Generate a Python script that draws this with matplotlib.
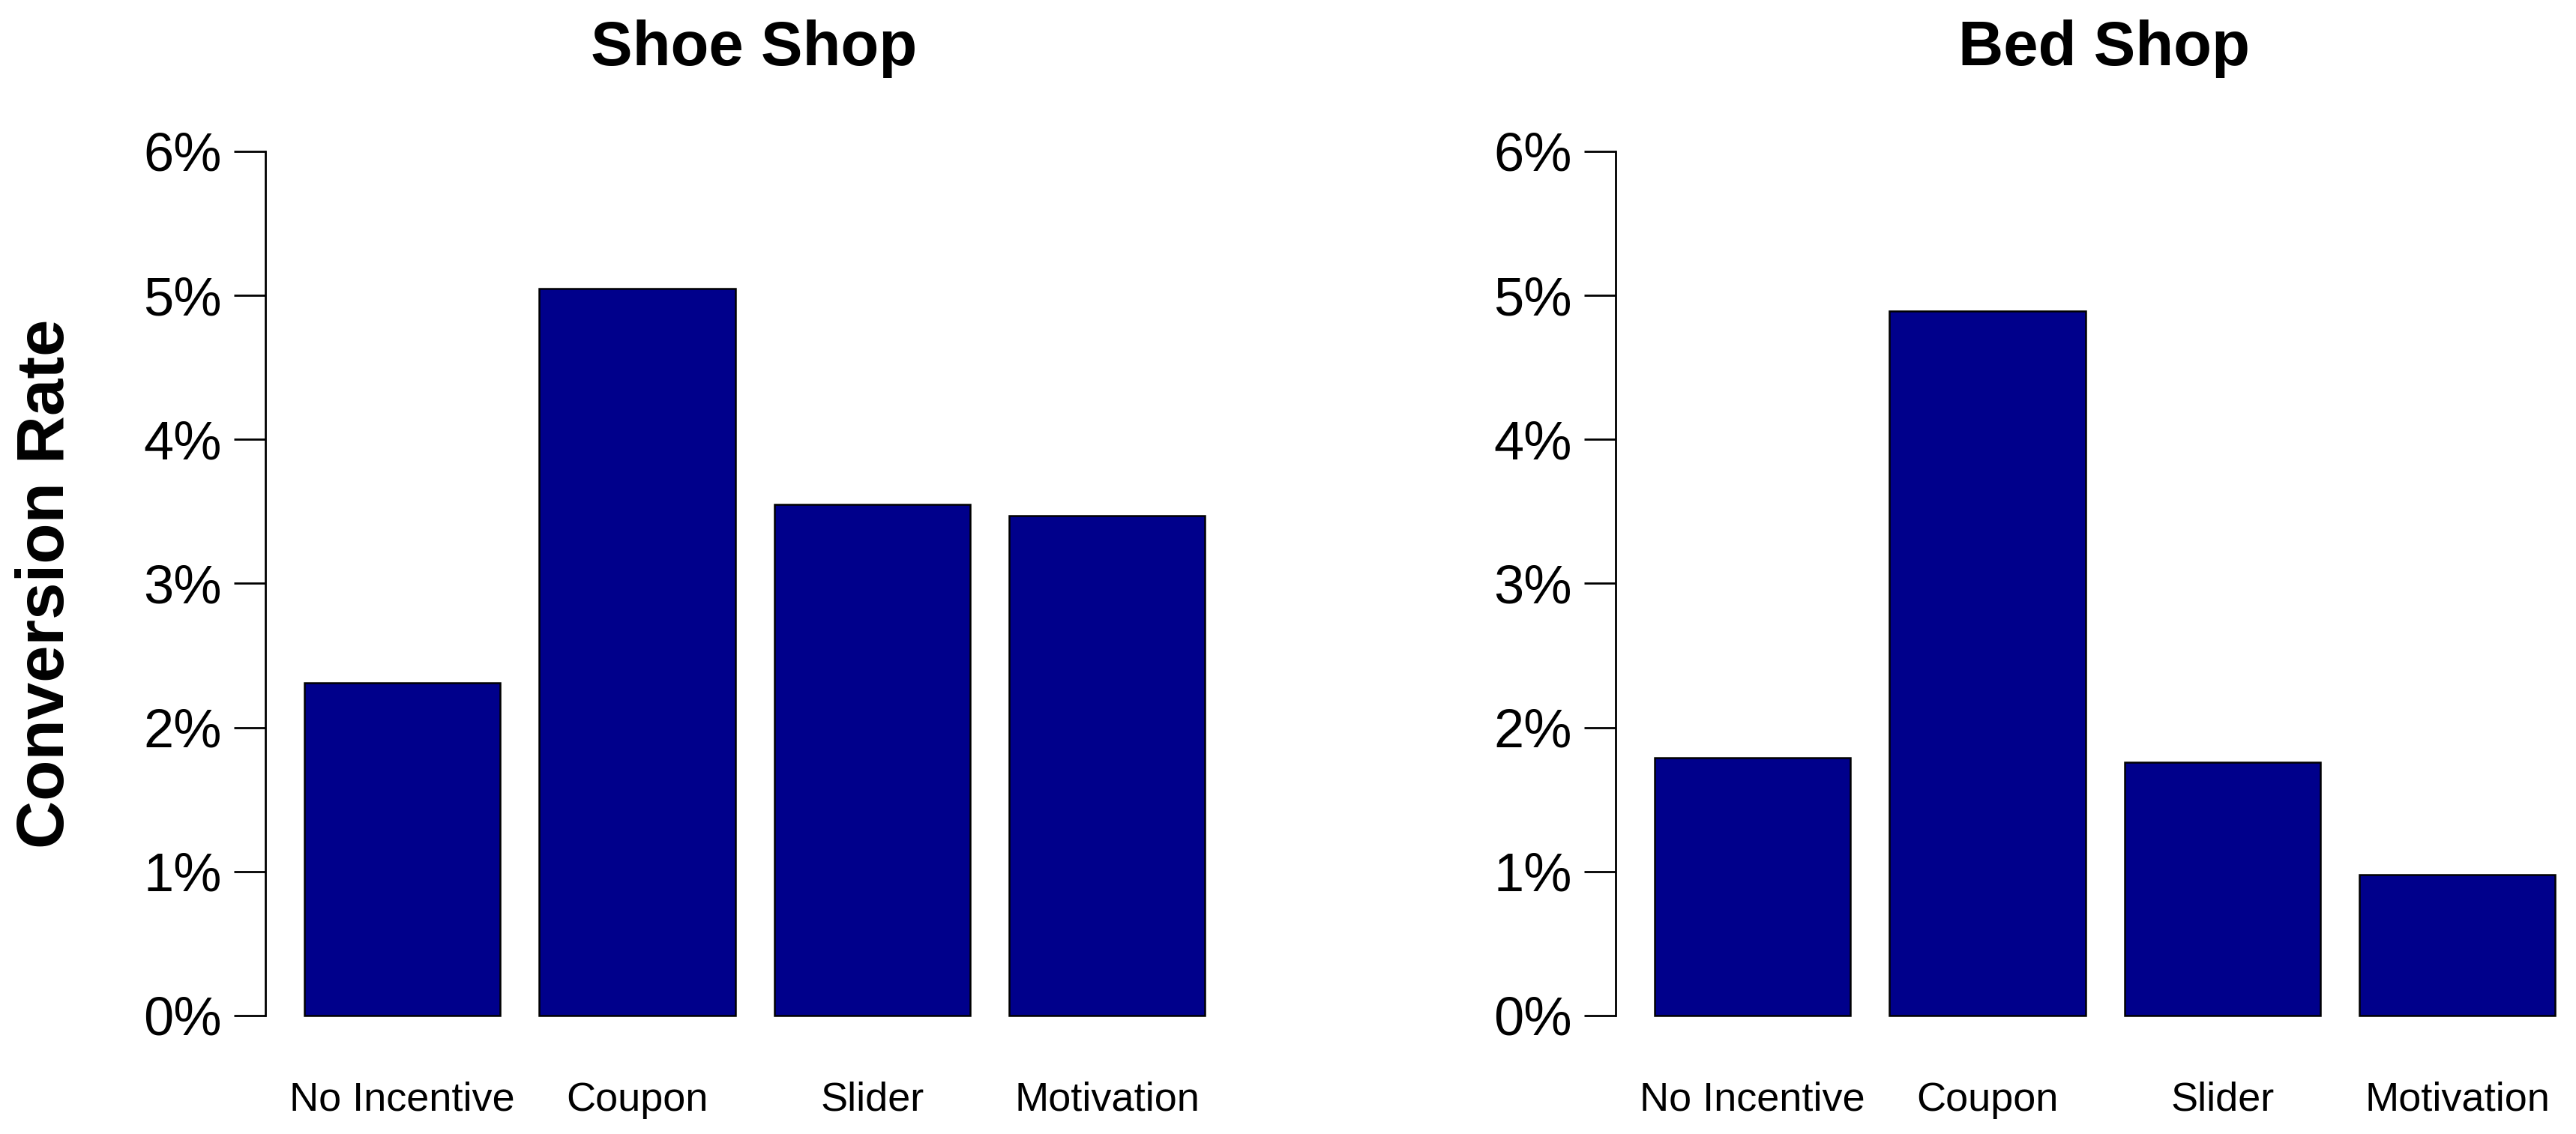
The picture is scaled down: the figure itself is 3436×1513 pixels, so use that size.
import matplotlib
matplotlib.use("Agg")
import matplotlib.pyplot as plt

categories = ["No Incentive", "Coupon", "Slider", "Motivation"]
shoe_values = [0.0231, 0.0505, 0.0355, 0.0347]
bed_values = [0.0179, 0.0489, 0.0176, 0.0098]
titles = ["Shoe Shop", "Bed Shop"]
yticks = [0, 0.01, 0.02, 0.03, 0.04, 0.05, 0.06]
ytick_labels = ["0%", "1%", "2%", "3%", "4%", "5%", "6%"]

plt.rcParams['font.family'] = ['Liberation Sans', 'DejaVu Sans']
fig = plt.figure(figsize=(34.37, 15.13), dpi=100)

centers = [0.7, 1.9, 3.1, 4.3]
lefts = [0.103, 0.627]
for i, (vals, title) in enumerate(zip([shoe_values, bed_values], titles)):
    ax = fig.add_axes([lefts[i], 0.074, 0.379, 0.823])
    ax.bar(centers, vals, width=1.0, color="#00008B", edgecolor="black", linewidth=1.8)
    ax.set_xlim(0, 4.99)
    ax.set_ylim(-0.0024, 0.0624)
    for s in ["top", "right", "bottom"]:
        ax.spines[s].set_visible(False)
    ax.spines["left"].set_bounds(0, 0.06)
    ax.spines["left"].set_linewidth(2)
    ax.set_yticks(yticks)
    ax.set_yticklabels(ytick_labels, fontsize=52)
    ax.tick_params(axis="y", length=30, width=2, pad=12)
    ax.set_xticks(centers)
    ax.set_xticklabels(categories, fontsize=39)
    ax.tick_params(axis="x", length=0, pad=30)
    ax.text(0.5, 1.073, title, transform=ax.transAxes, ha="center", va="center",
            fontsize=60, fontweight="bold")
    ax.patch.set_visible(False)
    if i == 0:
        fig.text(0.018, 0.485, "Conversion Rate", rotation=90, ha="center", va="center",
                 fontsize=64, fontweight="bold")

fig.savefig("out.png", dpi=100)
